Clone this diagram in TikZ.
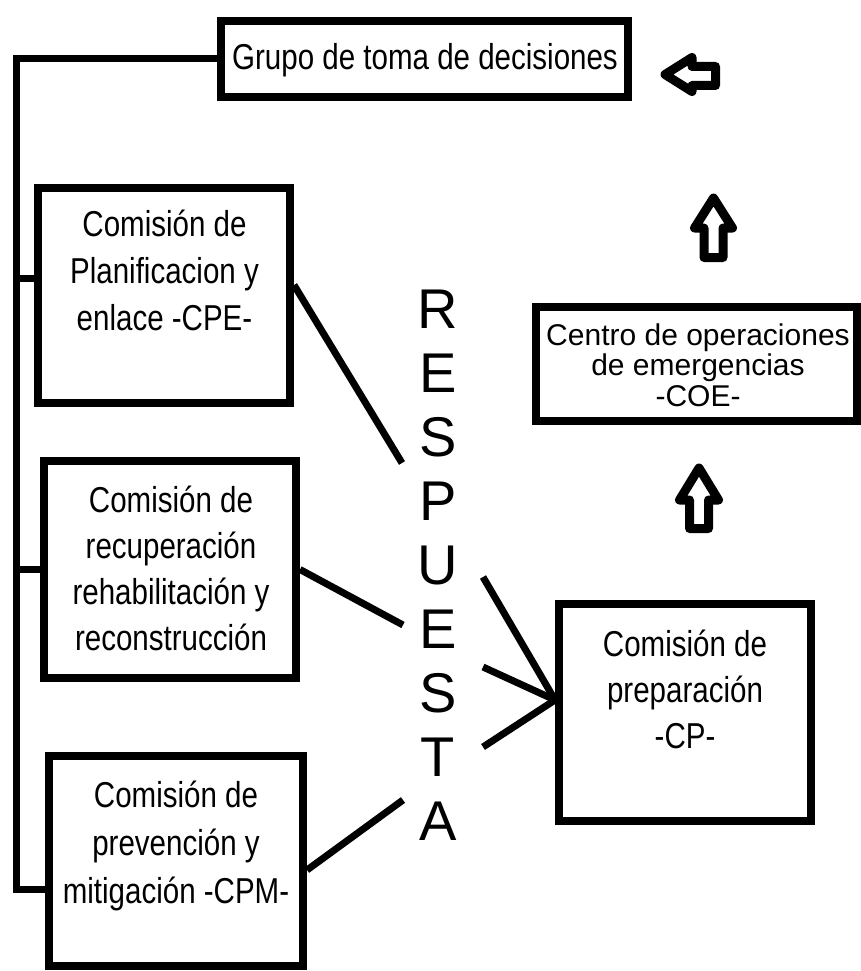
\documentclass[tikz,border=0pt]{standalone}
\usepackage{fontspec}
\setmainfont{Liberation Sans}
\newfontfamily\narrowfont[FakeStretch=0.82]{Liberation Sans}
\begin{document}
\begin{tikzpicture}[x=1pt,y=-1pt,
  box/.style={draw, line width=8pt, inner sep=0pt},
  lab/.style={font=\narrowfont\fontsize{36}{40}\selectfont, anchor=base, inner sep=0pt},
  coelab/.style={font=\fontsize{30}{32}\selectfont, anchor=base, inner sep=0pt},
  letter/.style={font=\fontsize{56}{60}\selectfont, anchor=base, inner sep=0pt},
  link/.style={line width=7pt},
  bus/.style={line width=7pt},
  hollow/.style={draw, line width=9pt, line join=round, fill=white}]
\useasboundingbox (0,0) rectangle (861,971);

% boxes
\node[box, minimum width=407pt, minimum height=76pt] (grupo) at (424.5,59) {};
\node[box, minimum width=252pt, minimum height=215pt] (cpe) at (164,295.5) {};
\node[box, minimum width=252pt, minimum height=217pt] (rec) at (170,569.5) {};
\node[box, minimum width=254pt, minimum height=210pt] (cpm) at (176,861) {};
\node[box, minimum width=252pt, minimum height=217pt] (cp) at (685,712.5) {};
\node[box, minimum width=321pt, minimum height=114pt] (coe) at (696.5,364) {};

% texts
\node[lab] (grupo-t) at (425,70) {Grupo de toma de decisiones};
\foreach \t [count=\i] in {Comisión de, Planificacion y, enlace -CPE-}
  \node[lab] (cpe-t\i) at (164.5,{236+47*(\i-1)}) {\t};
\foreach \t [count=\i] in {Comisión de, recuperación, rehabilitación y, reconstrucción}
  \node[lab] (rec-t\i) at (171,{512+46*(\i-1)}) {\t};
\foreach \t [count=\i] in {Comisión de, prevención y, mitigación -CPM-}
  \node[lab] (cpm-t\i) at (176,{807+48*(\i-1)}) {\t};
\foreach \t [count=\i] in {Comisión de, preparación, -CP-}
  \node[lab] (cp-t\i) at (685,{656+46*(\i-1)}) {\t};
\foreach \t [count=\i] in {Centro de operaciones, de emergencias, -COE-}
  \node[coelab] (coe-t\i) at (698,{345+30.5*(\i-1)}) {\t};
\foreach \ch [count=\i] in {R,E,S,P,U,E,S,T,A}
  \node[letter] (resp\i) at (438,{328+64*(\i-1)}) {\ch};

% left bus
\coordinate (busbot) at (16,889);
\coordinate (t1) at ([yshift=17.5pt]cpe.west);
\coordinate (t3) at ([yshift=-28pt]cpm.west);
\draw[bus] (grupo.west) -| (busbot) -- (t3);
\draw[bus] (t1) -- (t1 -| busbot);
\draw[bus] (rec.west) -- (rec.west -| busbot);

% links to RESPUESTA
\coordinate (r1) at (402,463);
\coordinate (r2) at (403,625);
\coordinate (r3) at (403,800);
\draw[link] ([yshift=10.5pt]cpe.east) -- (r1);
\draw[link] (rec.east) -- (r2);
\draw[link] ([yshift=-9pt]cpm.east) -- (r3);
\coordinate (c1) at (483,577);
\coordinate (c2) at (483,667);
\coordinate (c3) at (483,747);
\coordinate (cpin) at ([yshift=12.5pt]cp.west);
\draw[link] (c1) -- (cpin);
\draw[link] (c2) -- (cpin);
\draw[link] (c3) -- (cpin);

% hollow block arrows
\draw[hollow] (665,74.5) -- (692,57.5) -- (692,66.5) -- (715.5,66.5) -- (715.5,85.5) -- (692,85.5) -- (692,91.5) -- cycle;
\draw[hollow] (713.5,198) -- (732.5,228) -- (723,228) -- (723,257.5) -- (704,257.5) -- (704,228) -- (694.5,228) -- cycle;
\draw[hollow] (699,468) -- (718.5,500) -- (708.5,500) -- (708.5,528.5) -- (689.5,528.5) -- (689.5,500) -- (679.5,500) -- cycle;
\end{tikzpicture}
\end{document}
